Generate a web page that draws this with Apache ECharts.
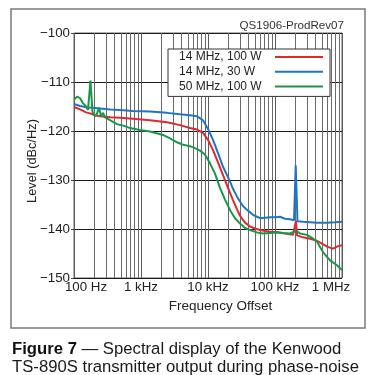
<!DOCTYPE html>
<html><head><meta charset="utf-8">
<script src="https://cdn.jsdelivr.net/npm/echarts@6/dist/echarts.min.js"></script>
<style>html,body{margin:0;padding:0;background:#fff}#c{width:374px;height:375px}</style>
</head><body><div id="c"></div>
<script>
const FONT = '"Liberation Sans", Arial, Helvetica, sans-serif';
const seriesNames = ['14 MHz, 100 W', '14 MHz, 30 W', '50 MHz, 100 W'];
const seriesColors = ['#E2282E', '#1D76C3', '#18984B'];
const xTickLabels = {100: '100 Hz', 1000: '1 kHz', 10000: '10 kHz', 100000: '100 kHz', 1000000: '1 MHz'};
const yMin = -150, yMax = -100, yStep = 10;
const xMin = 100, xMax = 1000000;
const minorGridFreqs = [200,300,400,500,600,700,800,900,
  2000,3000,4000,5000,6000,7000,8000,9000,
  20000,30000,40000,50000,60000,70000,80000,90000,
  200000,300000,400000,500000,600000,700000,800000,900000];

// 14 MHz, 100 W (red)
const redFreq = [100,123,151,173,206,244,345,486,760,1362,2444,3820,5386,6852,8422,10000,11876,14104,16749,19887,23612,27097,30040,35668,42359,50293,59722,78620,107130,141050,185670,198850,205790,213000,261750,333050,423590,502930,597220,734300,871600,1000000];
const redLevel = [-115.1,-115.6,-116.2,-116.4,-116.8,-117.0,-117.2,-117.3,-117.5,-117.8,-118.2,-118.8,-119.4,-119.7,-120.4,-121.8,-123.9,-126.4,-129.0,-131.6,-134.1,-136.0,-137.3,-138.7,-139.5,-139.9,-140.2,-140.5,-140.6,-140.9,-141.2,-141.2,-138.3,-141.3,-141.7,-142.0,-142.4,-143.0,-143.6,-144.0,-143.5,-143.3];

// 14 MHz, 30 W (blue)
const blueFreq = [100,123,162,206,244,345,486,760,1362,2444,3820,5386,6852,8422,10000,11876,14104,16749,19214,21300,23612,27097,30040,33305,38207,42359,46950,53865,59722,70914,84225,103490,118760,141050,167490,192150,198850,203710,210820,216670,261750,333050,423590,597220,786200,1000000];
const blueLevel = [-114.5,-114.9,-115.2,-115.3,-115.4,-115.6,-115.7,-115.9,-116.0,-116.3,-116.6,-116.8,-117.0,-117.8,-119.6,-121.8,-124.5,-127.3,-129.0,-130.3,-131.8,-133.4,-134.4,-135.3,-136.1,-136.6,-137.1,-137.5,-137.8,-137.7,-137.6,-137.6,-137.5,-137.9,-138.0,-138.2,-138.3,-127.0,-126.6,-138.4,-138.5,-138.6,-138.7,-138.7,-138.6,-138.5];

// 50 MHz, 100 W (green)
const greenFreq = [100,111,123,136,151,162,170,176,183,189,206,220,236,253,271,290,345,438,577,685,966,1362,2130,2710,3446,4236,5386,6397,7596,9022,10710,12721,15108,17941,21300,25293,30040,35668,42359,53865,66214,84225,107130,131650,167490,205790,236060,300400,356680,423590,520550,662140,842250,1000000];
const greenLevel = [-113.6,-113.0,-113.3,-114.3,-115.0,-115.7,-115.8,-109.7,-109.6,-116.2,-117.0,-116.5,-115.2,-117.0,-116.3,-117.2,-117.8,-118.6,-119.0,-119.4,-119.8,-120.1,-120.8,-121.5,-122.3,-122.8,-123.1,-123.5,-124.0,-124.8,-126.6,-128.7,-131.6,-134.0,-136.1,-137.8,-138.9,-139.8,-140.2,-140.7,-140.9,-140.8,-140.7,-140.8,-140.9,-140.4,-140.9,-141.2,-141.8,-142.6,-144.7,-146.4,-147.4,-148.4];

const pairs = (f, l) => f.map((v, i) => [v, l[i]]);
const seriesData = [pairs(redFreq, redLevel), pairs(blueFreq, blueLevel), pairs(greenFreq, greenLevel)];

const chart = echarts.init(document.getElementById('c'), null, {renderer: 'canvas'});
const lblStyle = {fontSize: 13.3, fontFamily: FONT, color: '#222'};

const option = {
  animation: false,
  backgroundColor: '#fff',
  textStyle: {fontFamily: FONT},
  grid: {left: 74, top: 33, width: 268, height: 245, show: true, borderColor: '#666', borderWidth: 1, backgroundColor: 'transparent'},
  legend: {
    data: seriesNames, orient: 'vertical', left: 168, top: 49, align: 'right',
    backgroundColor: '#fff', borderColor: '#333', borderWidth: 1, borderRadius: 0,
    padding: [1, 7, 3, 11], icon: 'rect', itemWidth: 48, itemHeight: 2, itemGap: 0.7,
    selectedMode: false,
    formatter: name => '{t|' + name + '}',
    textStyle: {
      fontSize: 12, fontFamily: FONT, color: '#222', lineHeight: 14,
      rich: {t: {width: 91, align: 'left', fontSize: 12, fontFamily: FONT, color: '#222', lineHeight: 14}}
    }
  },
  xAxis: {
    type: 'log', logBase: 10, min: xMin, max: xMax, splitNumber: 4,
    axisLine: {show: false}, axisTick: {show: false},
    splitLine: {show: true, lineStyle: {color: '#5a5a5a', width: 1}},
    axisLabel: {
      margin: 3, ...lblStyle,
      formatter: v => {
        const k = Math.round(v);
        const t = xTickLabels[k] || '';
        if (k === xMin) return '{first|' + t + '}';
        if (k === xMax) return '{last|' + t + '}';
        return t;
      },
      rich: {
        first: {...lblStyle, padding: [0, 0, 0, 24]},
        last: {...lblStyle, padding: [0, 22, 0, 0]}
      }
    },
    name: 'Frequency Offset', nameLocation: 'middle', nameGap: 20,
    nameTextStyle: {fontSize: 13.5, fontFamily: FONT, color: '#222', padding: [0, 0, 0, 25]}
  },
  yAxis: {
    type: 'value', min: yMin, max: yMax, interval: yStep,
    axisLine: {show: false},
    axisTick: {show: true, length: 3, lineStyle: {color: '#444'}},
    splitLine: {show: true, lineStyle: {color: '#1a1a1a', width: 1}},
    axisLabel: {margin: 4, ...lblStyle, formatter: v => String(v).replace('-', '\u2212')}
  },
  graphic: [
    {type: 'rect', shape: {x: 11, y: 9, width: 354, height: 319}, style: {fill: 'none', stroke: '#7a7a7a', lineWidth: 1.5}, silent: true},
    {type: 'text', x: 344, y: 26, style: {text: 'QS1906-ProdRev07', font: '11.6px ' + FONT, fill: '#333', align: 'right', verticalAlign: 'middle'}, silent: true},
    {type: 'text', x: 32, y: 161, rotation: Math.PI / 2, style: {text: 'Level (dBc/Hz)', font: '12.8px ' + FONT, fill: '#222', align: 'center', verticalAlign: 'middle'}, silent: true},
    {type: 'text', x: 12, y: 340, style: {
      text: '{b|Figure 7} \u2014 Spectral display of the Kenwood\nTS-890S transmitter output during phase-noise',
      font: '16.7px ' + FONT, fill: '#1a1a1a', lineHeight: 18, verticalAlign: 'top', align: 'left',
      rich: {b: {fontWeight: 'bold', fontSize: 16.7, fontFamily: FONT, fill: '#111', lineHeight: 18}}
    }, silent: true}
  ],
  series: [
    {
      type: 'line', name: '_grid', data: [], silent: true, z: 1,
      markLine: {
        silent: true, symbol: 'none', z: 1, animation: false,
        label: {show: false}, emphasis: {disabled: true},
        lineStyle: {color: '#6a6a6a', width: 1, type: 'solid'},
        data: minorGridFreqs.map(v => ({xAxis: v}))
      }
    },
    ...seriesNames.map((n, i) => ({
      type: 'line', name: n, data: seriesData[i], showSymbol: false, symbol: 'none',
      z: 3, lineStyle: {color: seriesColors[i], width: 2}, itemStyle: {color: seriesColors[i]},
      emphasis: {disabled: true}
    }))
  ]
};
chart.setOption(option);
</script></body></html>
